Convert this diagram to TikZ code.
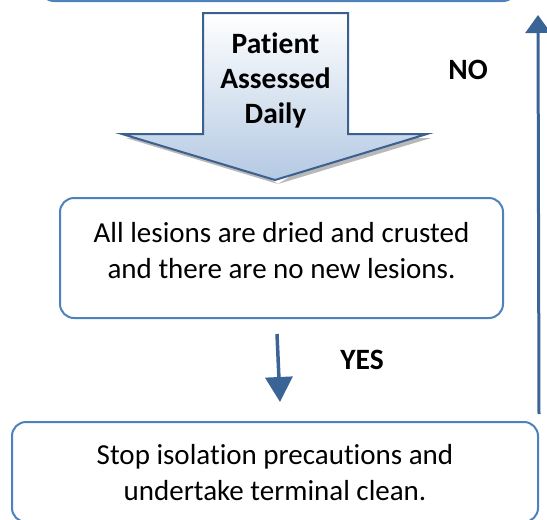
\documentclass[tikz,border=0pt]{standalone}
\usepackage{fontspec}
\setmainfont{Carlito}[RawFeature={-liga;-clig;-calt;-dlig}]
\usetikzlibrary{arrows.meta}
\definecolor{boxblue}{HTML}{4F81BD}
\definecolor{arrblue}{HTML}{3A6496}
\definecolor{darkedge}{HTML}{3B5F8F}
\definecolor{headfill}{HTML}{B4C9E3}
\tikzset{
  flowbox/.style={draw=boxblue, line width=2pt, rounded corners=14pt, inner sep=0pt},
  boldlabel/.style={font=\fontsize{29.5}{35}\selectfont\bfseries, align=center, inner sep=0pt},
  bodytext/.style={font=\fontsize{29}{36}\selectfont, align=center, inner sep=0pt},
  flowarrow/.style={draw=arrblue, line width=3.5pt, -{Triangle[width=27pt,length=25pt]}},
}
\begin{document}
\begin{tikzpicture}[x=1pt,y=-1pt]
\useasboundingbox (0,0) rectangle (547,520);
\clip (0,0) rectangle (547,520);
% top box (cut off)
\node[flowbox, minimum width=477pt, minimum height=42pt] (top) at (278.5,-20) {};
% block arrow shadow
\fill[gray!70, opacity=0.8] (126,138) -- (207,138) -- (278,184) -- (352,138) -- (431,138) -- (278,184) -- cycle;
% block arrow
\coordinate (sl) at (203,13);
\coordinate (sr) at (348,13);
\shade[top color=white, bottom color=headfill, draw=darkedge, line width=2pt, line join=miter]
  (sl) -- (sr) -- (348,134) -- (427,134) -- (275,180) -- (122,134) -- (203,134) -- cycle;
\node[boldlabel] (assess) at (275.5,80) {Patient\\Assessed\\Daily};
% middle box
\node[flowbox, minimum width=443pt, minimum height=120pt] (mid) at (281.5,258) {};
\node[bodytext] (midtext) at (281.5,251) {All lesions are dried and crusted\\and there are no new lesions.};
% bottom box
\node[flowbox, minimum width=526pt, minimum height=100pt] (bot) at (275,472) {};
\node[bodytext] (bottext) at (275,473) {Stop isolation precautions and\\undertake terminal clean.};
% arrows
\draw[flowarrow] ([xshift=-4.5pt,yshift=-15pt]mid.south) -- ([xshift=5pt,yshift=19pt]bot.north);
\coordinate (nohead) at (538,15);
\draw[draw=arrblue, line width=3pt, -{Triangle[width=25pt,length=18pt]}] ([yshift=7pt]bot.north east) -- (nohead);
\node[boldlabel] (yes) at (362,360) {YES};
\node[boldlabel] (no) at (468,70) {NO};
\end{tikzpicture}
\end{document}
